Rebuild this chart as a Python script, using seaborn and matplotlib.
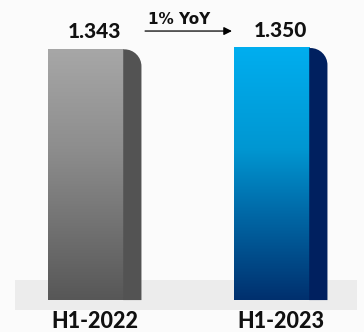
import numpy as np
import pandas as pd
import matplotlib
matplotlib.use("Agg")
import matplotlib.pyplot as plt
import seaborn as sns
from matplotlib.path import Path
from matplotlib.patches import PathPatch, Rectangle
from matplotlib.colors import LinearSegmentedColormap

categories = ["H1-2022", "H1-2023"]
values = [1.343, 1.350]
value_labels = ["1.343", "1.350"]
change_label = "1% YoY"

front_grads = [
    [(0.0, "#a7a7a7"), (0.4, "#8d8d8d"), (0.65, "#777777"), (1.0, "#575757")],
    [(0.0, "#00aeef"), (0.4, "#0097d2"), (0.65, "#006aa8"), (1.0, "#00306e")],
]
side_colors = ["#535353", "#00205f"]

sns.set_theme(style="white")
plt.rcParams["font.family"] = ["Lato", "DejaVu Sans"]

fig = plt.figure(figsize=(3.64, 3.32), dpi=100)
fig.patch.set_facecolor("#fbfbfb")
ax = fig.add_axes([0, 0, 1, 1])
ax.set_facecolor("#fbfbfb")

df = pd.DataFrame({"cat": categories, "val": values})
front_w = 0.403
side_w = 0.098
sns.barplot(data=df, x="cat", y="val", hue="cat", width=front_w, ax=ax,
            legend=False, palette=["#a7a7a7", "#00aeef"], zorder=3,
            linewidth=0)

ax.set_xlim(-0.461, -0.461 + 364 / 186)
ax.set_ylim(-0.171, -0.171 + 332 / 186.7)
ax.axis("off")

# background band
ax.add_patch(Rectangle((-0.380, -0.053), 1.838, 0.161, facecolor="#ececec",
                       edgecolor="none", zorder=1))

fig.canvas.draw()
px_x = (ax.get_xlim()[1] - ax.get_xlim()[0]) / 364
px_y = (ax.get_ylim()[1] - ax.get_ylim()[0]) / 332
r_px = 17

for i, p in enumerate(ax.patches[:2]):
    x0 = p.get_x()
    w = p.get_width()
    h = p.get_height()
    cmap = LinearSegmentedColormap.from_list(f"g{i}", front_grads[i])
    grad = np.linspace(0, 1, 256).reshape(-1, 1)
    ax.imshow(grad, cmap=cmap, aspect="auto", extent=(x0, x0 + w + 0.004, 0, h),
              origin="upper", zorder=3.5)
    p.set_facecolor("none")
    p.set_edgecolor("none")
    sx0 = x0 + w
    sx1 = sx0 + side_w
    rx = min(r_px * px_x, side_w)
    ry = r_px * px_y
    k = 0.5523
    verts = [(sx0, 0), (sx1, 0), (sx1, h - ry),
             (sx1, h - ry + k * ry), (sx1 - rx + k * rx, h), (sx1 - rx, h),
             (sx0, h), (sx0, 0)]
    codes = [Path.MOVETO, Path.LINETO, Path.LINETO,
             Path.CURVE4, Path.CURVE4, Path.CURVE4,
             Path.LINETO, Path.CLOSEPOLY]
    ax.add_patch(PathPatch(Path(verts, codes), facecolor=side_colors[i],
                           edgecolor="none", zorder=3.6))
    cx = x0 + (w + side_w) / 2
    ax.annotate(value_labels[i], (cx, h), xytext=(0, 8), textcoords="offset points",
                ha="center", va="baseline", fontsize=15, fontweight=900,
                color="#111111", zorder=5)
    ax.text(cx, -0.171 + 10 / 186.7, categories[i], ha="center", va="center",
            fontsize=15.5, fontweight=900, color="#111111", zorder=5)

# YoY arrow
ax.annotate("", xy=(0.786, 1.441), xytext=(0.319, 1.441),
            arrowprops=dict(arrowstyle="-|>", color="black", lw=0.9,
                            mutation_scale=12, shrinkA=0, shrinkB=0), zorder=5)
ax.text(0.50, 1.48, change_label, ha="center", va="baseline", fontsize=11,
        fontweight="bold", color="#111111", family=["DejaVu Sans"], zorder=5)

fig.savefig("out.png", dpi=100, facecolor=fig.get_facecolor())
